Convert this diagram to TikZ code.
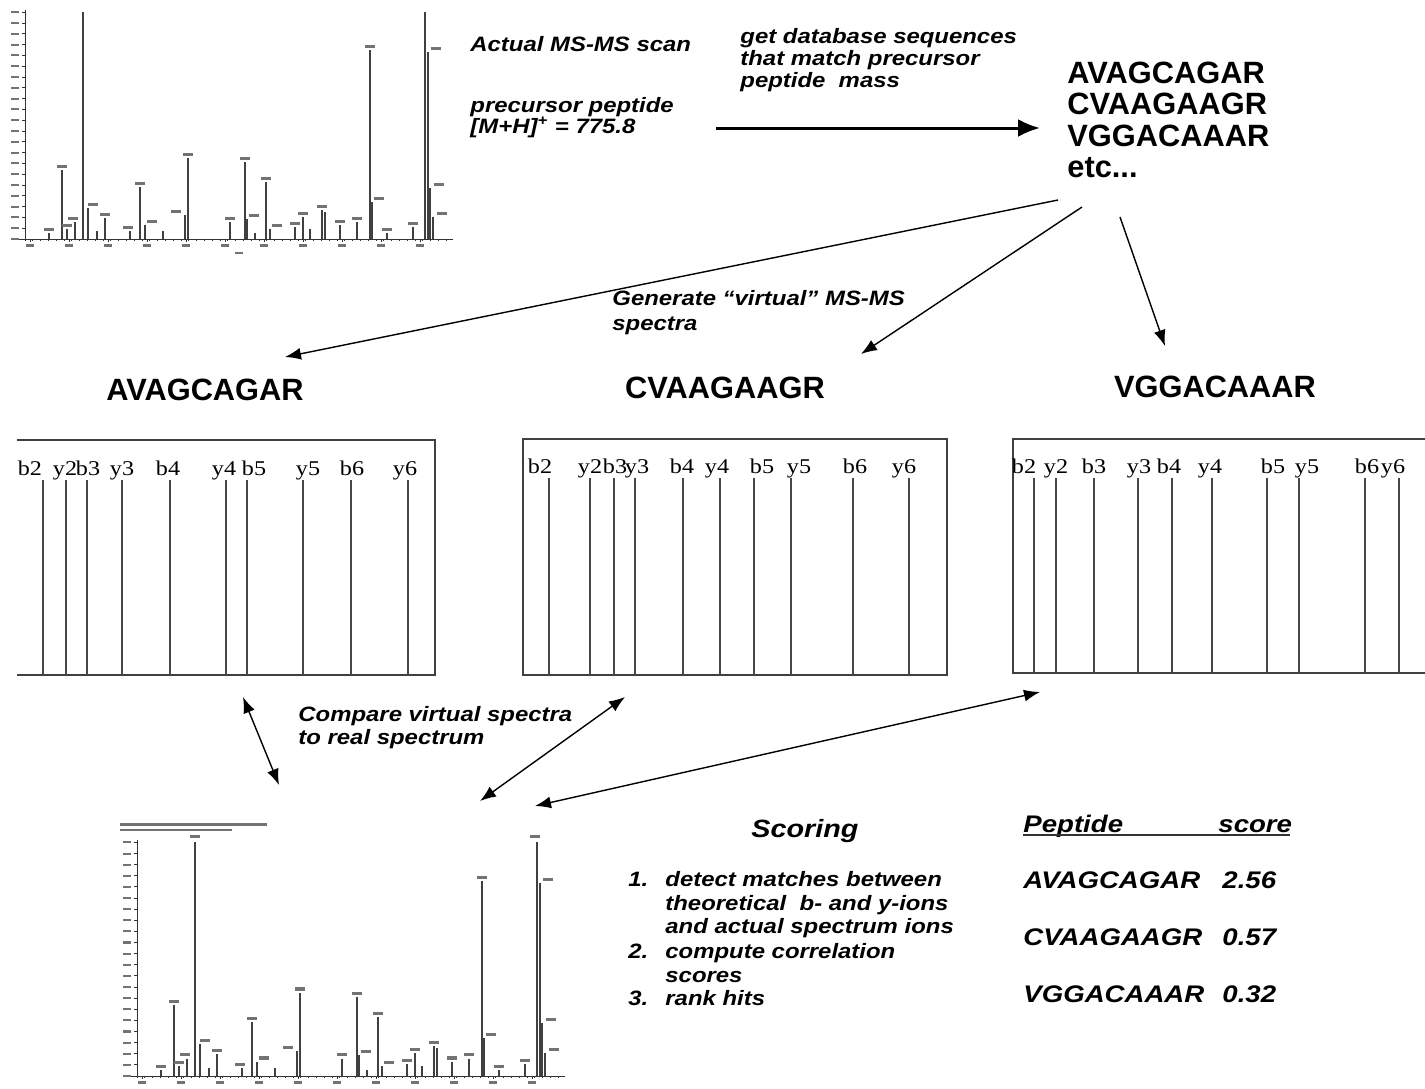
\documentclass[tikz,border=0pt]{standalone}
\usepackage{fontspec}
\setmainfont{Liberation Sans}[BoldItalicFeatures={FakeStretch=1.15}]
\newfontfamily\serifl{Liberation Serif}[FakeStretch=1.15]
\usetikzlibrary{arrows.meta}
\newcommand{\peaksA}{37/69,58/227,63/31,24/6,42/10,50/17,80/21,72/8,115/52,120/14,105/8,163/81,160/24,138/8,205/17,220/77,222/20,230/6,241/57,245/10,270/12,278/22,285/10,297/29,300/27,332/17,345/189,347/37,315/14,362/6,388/12,400/227,403/187,405/51,408/22}
\newcommand{\labelsA}{37/69/0,63/31/5,50/17/-2,80/21/0,24/6/0,42/10/0,115/52/0,120/14/7,105/8/-2,163/81/0,160/24/-9,205/17/0,220/77/0,222/20/7,241/57/0,245/10/7,270/12/0,278/22/0,297/29/0,315/14/0,332/17/0,345/189/0,347/37/7,362/6/0,388/12/0,403/187/8,405/51/9,408/22/9}
\newcommand{\drawspec}{%
  \foreach \pdx/\ph in \peaksA {\draw[peak] (\pdx,0) -- (\pdx,-\ph);}
  \foreach \pdx/\ph/\po in \labelsA {\fill[blob] (\pdx+\po-5,-\ph-2) rectangle (\pdx+\po+5,-\ph-5);}
  \draw[axis] (0,0) -- (0,-229);
  \draw[axis] (-6,0) -- (428,0);
  \foreach \k in {0,...,21} {\draw[axis] (0,-\k*10.8) -- (-3,-\k*10.8);
    \fill[blob] (-14,-\k*10.8-1) rectangle (-6,-\k*10.8+1);}
  \foreach \k in {0,...,10} {\draw[axis] (5+\k*39,0) -- (5+\k*39,3);
    \fill[blob] (1+\k*39,5) rectangle (9+\k*39,8);}
  \foreach \k in {0,...,54} {\draw[axis] (\k*7.8,0) -- (\k*7.8,1.5);}
  \fill[blob] (210,13) rectangle (218,15);
}
\begin{document}
\begin{tikzpicture}[x=0.5pt,y=-0.5pt,
  peak/.style={line width=0.75pt,black!75},
  axis/.style={line width=0.5pt,black!80},
  blob/.style={black!55},
  itl/.style={font=\fontsize{10.4}{12}\selectfont\bfseries\itshape,inner sep=0pt},
  seqlist/.style={font=\fontsize{15.4}{18}\selectfont\bfseries,inner sep=0pt,anchor=base west},
  hdr/.style={font=\fontsize{15.4}{18}\selectfont\bfseries,inner sep=0pt,anchor=base},
  ionlbl/.style={font=\fontsize{10.5}{12}\selectfont\serifl,inner sep=0pt,anchor=base},
  ionline/.style={line width=1pt,black!72},
  boxline/.style={line width=0.7pt,black!75},
  thinarrow/.style={line width=0.7pt,-{Latex[length=8pt,width=6pt]}},
  dblarrow/.style={line width=0.7pt,{Latex[length=8pt,width=6pt]}-{Latex[length=8pt,width=6pt]}},
  bigarrow/.style={line width=1.5pt,-{Latex[length=11pt,width=9pt]}}]
\useasboundingbox (0,0) rectangle (1425,1088);
\fill[white] (0,0) rectangle (1425,1088);

% top real spectrum
\begin{scope}[shift={(25,239)}]
  \drawspec
\end{scope}

% bottom real spectrum
\begin{scope}[shift={(137,1076)},yscale=1.03]
  \drawspec
  \fill[blob] (53,-231) rectangle (63,-234);
  \fill[blob] (393,-231) rectangle (403,-234);
\end{scope}
\fill[blob] (120,823) rectangle (267,826);
\fill[blob] (120,828.5) rectangle (232,831);

% top texts
\node[itl,anchor=base west] (scan) at (470,51) {Actual MS-MS scan};
\node[itl,anchor=base west] (prec1) at (470,112) {precursor peptide};
\node[itl,anchor=base west] (prec2) at (470,133) {[M+H]\textsuperscript{+} = 775.8};
\node[itl,anchor=base west] (db1) at (740,43) {get database sequences};
\node[itl,anchor=base west] (db2) at (740,65) {that match precursor};
\node[itl,anchor=base west] (db3) at (740,87) {peptide\ \ mass};

\coordinate (ba) at (716,128);
\coordinate (bb) at (1040,128);
\draw[bigarrow] (ba) -- (bb);

\node[seqlist] (l1) at (1067,83) {AVAGCAGAR};
\node[seqlist] (l2) at (1067,114) {CVAAGAAGR};
\node[seqlist] (l3) at (1067,146) {VGGACAAAR};
\node[seqlist] (l4) at (1067,177) {etc...};

\coordinate (t1) at (1058,200);
\coordinate (t2) at (1082,207);
\coordinate (t3) at (1120,217);
\coordinate (h1) at (285,357);
\coordinate (h2) at (861,354);
\coordinate (h3) at (1165,346);
\draw[thinarrow] (t1) -- (h1);
\draw[thinarrow] (t2) -- (h2);
\draw[thinarrow] (t3) -- (h3);

\node[itl,anchor=base west] (gen1) at (612,305) {Generate “virtual” MS-MS};
\node[itl,anchor=base west] (gen2) at (612,330) {spectra};

\node[hdr] (hA) at (205,400) {AVAGCAGAR};
\node[hdr] (hC) at (725,398) {CVAAGAAGR};
\node[hdr] (hV) at (1215,397) {VGGACAAAR};

% virtual spectrum 1
\draw[boxline] (17,440) -- (435,440) -- (435,675) -- (17,675);
\foreach \xx in {43,66,87,122,170,226,247,303,351,408}
  {\draw[ionline] (\xx,480) -- (\xx,675);}
\foreach \xx/\lab in {30/b2,65/y2,88/b3,122/y3,168/b4,224/y4,254/b5,308/y5,352/b6,405/y6}
  {\node[ionlbl] at (\xx,475) {\lab};}

% virtual spectrum 2
\draw[boxline] (523,439) rectangle (947,675);
\foreach \xx in {549,590,614,635,683,720,754,791,853,909}
  {\draw[ionline] (\xx,478) -- (\xx,675);}
\foreach \xx/\lab in {540/b2,590/y2,615/b3,637/y3,682/b4,717/y4,762/b5,799/y5,855/b6,904/y6}
  {\node[ionlbl] at (\xx,473) {\lab};}

% virtual spectrum 3
\draw[boxline] (1425,439) -- (1013,439) -- (1013,673) -- (1425,673);
\foreach \xx in {1034,1056,1094,1138,1172,1212,1267,1299,1365,1399}
  {\draw[ionline] (\xx,478) -- (\xx,673);}
\foreach \xx/\lab in {1024/b2,1056/y2,1094/b3,1139/y3,1169/b4,1210/y4,1273/b5,1307/y5,1367/b6,1393/y6}
  {\node[ionlbl] at (\xx,473) {\lab};}

% compare
\node[itl,anchor=base west] (cmp1) at (298,721) {Compare virtual spectra};
\node[itl,anchor=base west] (cmp2) at (298,744) {to real spectrum};
\coordinate (d1a) at (243,697);
\coordinate (d1b) at (279,785);
\coordinate (d2a) at (625,697);
\coordinate (d2b) at (480,801);
\coordinate (d3a) at (1040,692);
\coordinate (d3b) at (535,806);
\draw[dblarrow] (d1a) -- (d1b);
\draw[dblarrow] (d2a) -- (d2b);
\draw[dblarrow] (d3a) -- (d3b);

% scoring
\node[font=\fontsize{12.5}{14}\selectfont\bfseries\itshape,inner sep=0pt,anchor=base] (scor) at (805,837) {Scoring};
\node[itl,anchor=base west] (n1) at (628,886) {1.};
\node[itl,anchor=base west] (s1) at (665,886) {detect matches between};
\node[itl,anchor=base west] (s2) at (665,910) {theoretical\ \ b- and y-ions};
\node[itl,anchor=base west] (s3) at (665,933) {and actual spectrum ions};
\node[itl,anchor=base west] (n2) at (628,958) {2.};
\node[itl,anchor=base west] (s4) at (665,958) {compute correlation};
\node[itl,anchor=base west] (s5) at (665,982) {scores};
\node[itl,anchor=base west] (n3) at (628,1005) {3.};
\node[itl,anchor=base west] (s6) at (665,1005) {rank hits};

\tikzset{scr/.style={font=\fontsize{12}{14}\selectfont\bfseries\itshape,inner sep=0pt,anchor=base west}}
\node[scr] (pep) at (1023,832) {Peptide};
\node[scr] (sco) at (1218,832) {score};
\draw[line width=1pt,black!80] (1023,835) -- (1290,835);
\node[scr] (p1) at (1023,888) {AVAGCAGAR};
\node[scr] (v1) at (1222,888) {2.56};
\node[scr] (p2) at (1023,945) {CVAAGAAGR};
\node[scr] (v2) at (1222,945) {0.57};
\node[scr] (p3) at (1023,1002) {VGGACAAAR};
\node[scr] (v3) at (1222,1002) {0.32};
\end{tikzpicture}
\end{document}
